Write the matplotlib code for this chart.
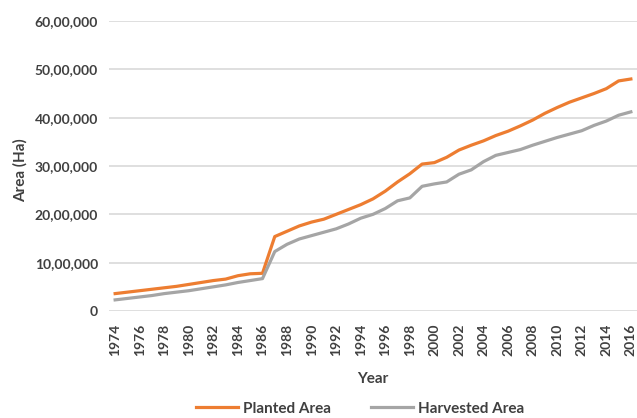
import matplotlib
matplotlib.use("Agg")
import matplotlib.pyplot as plt
from matplotlib.ticker import FuncFormatter, MultipleLocator

years = list(range(1974, 2017))

# area in hectares
planted = [3.6, 3.9, 4.2, 4.5, 4.8, 5.1, 5.5, 5.9, 6.3, 6.6, 7.3, 7.7, 7.8,
           15.4, 16.5, 17.6, 18.4, 19.0, 20.0, 21.0, 22.0, 23.2, 24.8, 26.7,
           28.4, 30.4, 30.7, 31.8, 33.3, 34.3, 35.2, 36.3, 37.2, 38.3, 39.5,
           40.9, 42.1, 43.2, 44.1, 45.0, 46.0, 47.6, 48.0]
harvested = [2.3, 2.6, 2.9, 3.2, 3.6, 3.9, 4.2, 4.6, 5.0, 5.4, 5.9, 6.3, 6.7,
             12.3, 13.8, 14.9, 15.6, 16.3, 17.0, 18.0, 19.2, 20.0, 21.2, 22.8,
             23.4, 25.8, 26.3, 26.7, 28.3, 29.2, 30.9, 32.2, 32.8, 33.4, 34.3,
             35.1, 35.9, 36.6, 37.3, 38.4, 39.3, 40.5, 41.2]
planted = [v * 1e5 for v in planted]
harvested = [v * 1e5 for v in harvested]

text_color = "#404040"
plt.rcParams['font.family'] = ['Lato', 'DejaVu Sans']


# Indian digit grouping, e.g. 60,00,000
def indian_fmt(v, pos):
    n = int(round(v))
    if n == 0:
        return "0"
    s = str(n)
    last3 = s[-3:]
    rest = s[:-3]
    groups = []
    while len(rest) > 2:
        groups.insert(0, rest[-2:])
        rest = rest[:-2]
    if rest:
        groups.insert(0, rest)
    return ",".join(groups + [last3])


fig = plt.figure(figsize=(6.37, 4.18), dpi=100)
ax = fig.add_axes([109 / 637, 1 - 311 / 418, 528 / 637, 290 / 418])

ax.plot(years, planted, color="#ED7D31", linewidth=2.3, label="Planted Area")
ax.plot(years, harvested, color="#A5A5A5", linewidth=2.3, label="Harvested Area")

ax.set_xlim(1973.5, 2016.5)
ax.set_ylim(0, 6e6)
ax.yaxis.set_major_locator(MultipleLocator(1e6))
ax.yaxis.set_major_formatter(FuncFormatter(indian_fmt))
ax.set_xticks(years[::2])
ax.set_xticklabels([str(y) for y in years[::2]], rotation=90)

ax.grid(axis="y", color="#D9D9D9", linewidth=1.2)
ax.set_axisbelow(True)
for s in ax.spines.values():
    s.set_visible(False)
ax.tick_params(length=0, colors=text_color, labelsize=10)
ax.tick_params(axis="x", pad=9)
ax.tick_params(axis="y", pad=8)
for lab in ax.get_xticklabels() + ax.get_yticklabels():
    lab.set_fontweight("bold")

ax.set_xlabel("Year", fontsize=11, fontweight="bold", color=text_color)
ax.xaxis.set_label_coords(0.5, -0.21)
ax.set_ylabel("Area (Ha)", fontsize=11, fontweight="bold", color=text_color)
ax.yaxis.set_label_coords(-0.155, 0.486)

leg = fig.legend(loc="center", bbox_to_anchor=(0.565, 0.022), ncol=2, frameon=False,
                 fontsize=11, handlelength=2.8, handletextpad=0.3, columnspacing=2.6)
for t in leg.get_texts():
    t.set_color(text_color)
    t.set_fontweight("bold")

fig.savefig("out.png", dpi=100)
